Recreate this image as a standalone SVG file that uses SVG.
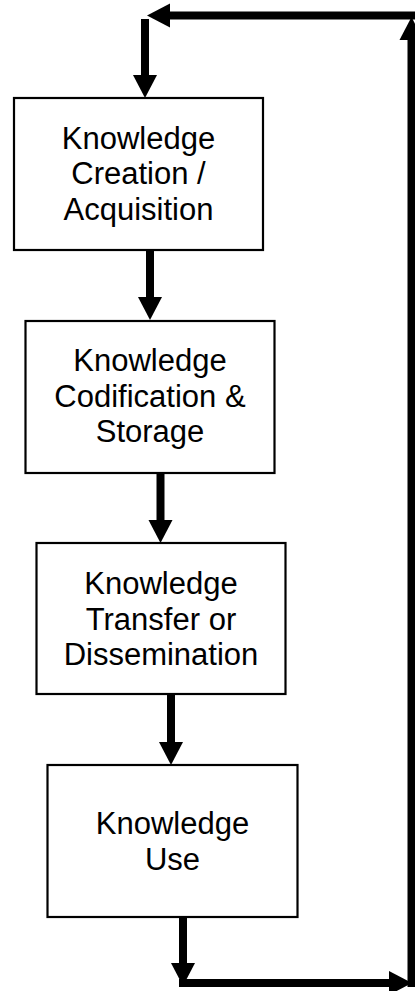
<svg xmlns="http://www.w3.org/2000/svg" width="415" height="991" viewBox="0 0 415 991">
  <style>
    .box { fill: #ffffff; stroke: #000000; stroke-width: 2.2; }
    .label { font-family: "Liberation Sans", Arial, sans-serif; font-size: 31px; fill: #000000; text-anchor: middle; }
    .shaft { fill: none; stroke: #000000; stroke-width: 8; stroke-linecap: butt; marker-end: url(#head); }
  </style>
  <defs>
    <marker id="head" markerUnits="userSpaceOnUse" markerWidth="24" markerHeight="24" refX="0" refY="12" orient="auto" overflow="visible">
      <path d="M0,0 L23,12 L0,24 Z" fill="#000000"/>
    </marker>
  </defs>

  <rect width="415" height="991" fill="#ffffff"/>

  <!-- process steps -->
  <g id="node-creation">
    <rect class="box" x="14" y="98" width="249" height="152"/>
    <text class="label" x="138.5" y="148.5">Knowledge</text>
    <text class="label" x="138.5" y="184">Creation /</text>
    <text class="label" x="138.5" y="219.5">Acquisition</text>
  </g>

  <g id="node-codification">
    <rect class="box" x="25.5" y="321" width="249" height="152"/>
    <text class="label" x="150" y="371">Knowledge</text>
    <text class="label" x="150" y="406.5">Codification &amp;</text>
    <text class="label" x="150" y="442">Storage</text>
  </g>

  <g id="node-transfer">
    <rect class="box" x="36.5" y="543" width="249" height="151"/>
    <text class="label" x="161" y="594">Knowledge</text>
    <text class="label" x="161" y="629.5">Transfer or</text>
    <text class="label" x="161" y="665">Dissemination</text>
  </g>

  <g id="node-use">
    <rect class="box" x="47.5" y="765" width="250" height="152"/>
    <text class="label" x="172.5" y="834">Knowledge</text>
    <text class="label" x="172.5" y="869.5">Use</text>
  </g>

  <!-- connectors -->
  <g id="connectors">
    <path class="shaft" d="M150,250 V297"/>
    <path class="shaft" d="M160.5,473 V520"/>
    <path class="shaft" d="M171,694 V742"/>
    <path class="shaft" d="M183,917 V963"/>
    <!-- feedback loop back to creation -->
    <path class="shaft" d="M179,983 H389"/>
    <path class="shaft" d="M411.5,987 V40"/>
    <path class="shaft" d="M415,15.5 H170"/>
    <path class="shaft" d="M145,19 V75"/>
  </g>
</svg>
